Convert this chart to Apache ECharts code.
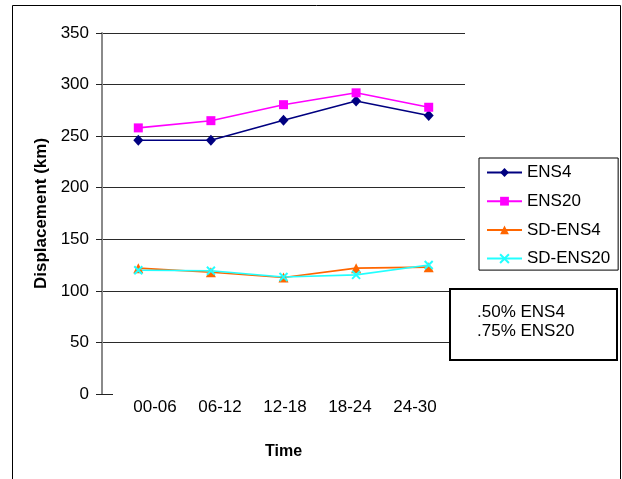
<!DOCTYPE html>
<html>
<head>
<meta charset="utf-8">
<script src="https://cdn.jsdelivr.net/npm/echarts@6/dist/echarts.min.js"></script>
<style>
  html, body { margin: 0; padding: 0; background: #fff; }
  #chart { width: 622px; height: 479px; }
</style>
</head>
<body>
<div id="chart"></div>
<script>
// Time windows along the horizontal axis
const timeWindows = ['00-06', '06-12', '12-18', '18-24', '24-30'];

// Mean displacement (km) for each ensemble size
const ens4 = [246, 246, 265.5, 284, 270];
const ens20 = [258, 265, 280.5, 292, 278];

// Spread (standard deviation) of displacement (km)
const sdEns4 = [122, 118, 113, 122, 123];
const sdEns20 = [120, 119.5, 113.5, 115.5, 125];

// Value axis ticks
const yTicks = [0, 50, 100, 150, 200, 250, 300, 350];

// Notes shown in the side box
const noteLines = ['.50% ENS4', '.75% ENS20'];

const FONT = "'Liberation Sans', Arial, sans-serif";
const crossPath = 'path://M0,0L10,10M10,0L0,10';

const chart = echarts.init(document.getElementById('chart'), null, { renderer: 'canvas' });

const yMin = yTicks[0];
const yMax = yTicks[yTicks.length - 1];
const yStep = yTicks[1] - yTicks[0];

function lineSeries(name, data, color, symbol, size, extraItem) {
  return {
    name: name,
    type: 'line',
    xAxisIndex: 0,
    yAxisIndex: 0,
    data: data,
    symbol: symbol,
    symbolSize: size,
    showSymbol: true,
    lineStyle: { color: color, width: 1.6 },
    itemStyle: Object.assign({ color: color, borderWidth: 0 }, extraItem || {}),
    emphasis: { disabled: true },
    z: 3
  };
}

const option = {
  animation: false,
  backgroundColor: '#fff',
  textStyle: { fontFamily: FONT },
  grid: [
    { left: 102, right: 157, top: 33, bottom: 85 },
    // label row for the time windows
    { left: 122.5, right: 174.5, top: 33, bottom: 85 }
  ],
  xAxis: [
    {
      type: 'category',
      gridIndex: 0,
      data: timeWindows,
      boundaryGap: true,
      axisLine: { show: false },
      axisTick: { show: false },
      axisLabel: { show: false },
      name: 'Time',
      nameLocation: 'middle',
      nameGap: 50,
      nameTextStyle: { fontFamily: FONT, fontSize: 16, fontWeight: 'bold', color: '#000' }
    },
    {
      type: 'category',
      gridIndex: 1,
      data: timeWindows,
      boundaryGap: true,
      axisLine: { show: false },
      axisTick: { show: false },
      axisLabel: { show: true, margin: 5, fontFamily: FONT, fontSize: 17, color: '#000' }
    }
  ],
  yAxis: [
    {
      type: 'value',
      gridIndex: 0,
      min: yMin,
      max: yMax,
      interval: yStep,
      axisLine: { show: true, lineStyle: { color: '#8a8a8a', width: 2 } },
      axisTick: { show: true, inside: false, length: 6, lineStyle: { color: '#222', width: 1 } },
      axisLabel: { margin: 13, fontFamily: FONT, fontSize: 17, color: '#000' },
      splitLine: { show: true, showMinLine: false, lineStyle: { color: '#2a2a2a', width: 1 } },
      name: 'Displacement (km)',
      nameLocation: 'middle',
      nameGap: 49,
      nameRotate: 90,
      nameTextStyle: { fontFamily: FONT, fontSize: 17, fontWeight: 'bold', color: '#000' }
    },
    {
      type: 'value',
      gridIndex: 1,
      min: yMin,
      max: yMax,
      show: false
    }
  ],
  legend: {
    orient: 'vertical',
    left: 479,
    top: 158,
    padding: [6, 8, 3, 7],
    itemWidth: 35,
    itemHeight: 11,
    itemGap: 11.7,
    borderColor: '#000',
    borderWidth: 1,
    backgroundColor: '#fff',
    selectedMode: false,
    textStyle: { fontFamily: FONT, fontSize: 17, color: '#000', lineHeight: 17 },
    data: ['ENS4', 'ENS20', 'SD-ENS4', 'SD-ENS20']
  },
  series: [
    lineSeries('ENS4', ens4, '#000080', 'diamond', [10, 11]),
    lineSeries('ENS20', ens20, '#FF00FF', 'rect', 9),
    lineSeries('SD-ENS4', sdEns4, '#FF6600', 'triangle', 10),
    lineSeries('SD-ENS20', sdEns20, '#22FFFF', crossPath, 8,
      { color: 'rgba(0,0,0,0)', borderColor: '#22FFFF', borderWidth: 2 })
  ]
};

chart.setOption(option);

// Frame, note box and the short stub on the category baseline
const origin = chart.convertToPixel({ xAxisIndex: 0, yAxisIndex: 0 }, [0, yMin]);
const axisX = 102;
chart.setOption({
  graphic: [
    {
      type: 'rect',
      silent: true,
      shape: { x: 12.5, y: 5.5, width: 608, height: 520 },
      style: { fill: 'none', stroke: '#000', lineWidth: 1 },
      z: 0
    },
    {
      type: 'line',
      silent: true,
      shape: { x1: axisX - 6, y1: Math.round(origin[1]) + 0.5, x2: axisX + 11, y2: Math.round(origin[1]) + 0.5 },
      style: { stroke: '#222', lineWidth: 1 },
      z: 5
    },
    {
      type: 'group',
      left: 449,
      top: 288,
      silent: true,
      z: 10,
      children: [
        {
          type: 'rect',
          shape: { x: 0, y: 0, width: 167, height: 71 },
          style: { fill: '#fff', stroke: '#000', lineWidth: 2 }
        },
        {
          type: 'text',
          x: 27,
          y: 14,
          style: {
            text: noteLines.join('\n'),
            font: '17px ' + FONT,
            fill: '#000',
            lineHeight: 19,
            align: 'left',
            verticalAlign: 'top'
          }
        }
      ]
    }
  ]
});
</script>
</body>
</html>
